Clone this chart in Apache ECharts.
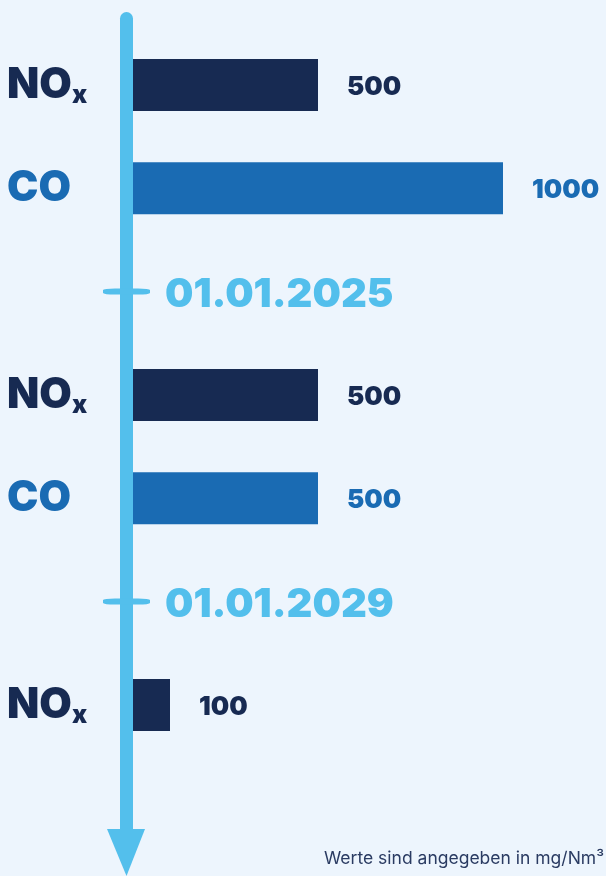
<!DOCTYPE html>
<html>
<head>
<meta charset="utf-8">
<script src="https://cdn.jsdelivr.net/npm/echarts@6/dist/echarts.min.js"></script>
<style>
  html, body { margin: 0; padding: 0; background: #EDF5FD; }
  #chart { width: 606px; height: 876px; }
</style>
</head>
<body>
<div id="chart"></div>
<script>
// Rows of the timeline, top to bottom
const categories = ['NOx', 'CO', '01.01.2025', 'NOx', 'CO', '01.01.2029', 'NOx'];
const rowKinds   = ['NOx', 'CO', 'date', 'NOx', 'CO', 'date', 'NOx'];
// Limit values in mg/Nm³
const noxValues = [500, '-', '-', 500, '-', '-', 100];
const coValues  = ['-', 1000, '-', '-', 500, '-', '-'];
// Milestone markers sit on the timeline (value 0)
const dateMarks = ['-', '-', 0, '-', '-', 0, '-'];
const footnote = 'Werte sind angegeben in mg/Nm³';

const NAVY = '#172A52';
const BLUE = '#1A6BB3';
const LIGHT = '#53BFEC';
const FONT = 'Inter, "Noto Sans", sans-serif';

const dateData = [];
dateMarks.forEach((v, i) => { if (v !== '-') dateData.push([v, i]); });

const chart = echarts.init(document.getElementById('chart'), null, { renderer: 'canvas' });
chart.setOption({
  backgroundColor: '#EDF5FD',
  animation: false,
  title: {
    text: footnote,
    left: 319,
    top: 845,
    textStyle: { fontFamily: FONT, fontSize: 17.5, fontWeight: 400, color: '#2A3B62' }
  },
  grid: { left: 133, right: 103, top: 33.3, bottom: 119.4, containLabel: false },
  xAxis: { type: 'value', min: 0, max: 1000, show: false },
  yAxis: {
    type: 'category',
    inverse: true,
    data: categories,
    axisLine: { show: false },
    axisTick: { show: false },
    splitLine: { show: false },
    axisLabel: {
      align: 'left',
      margin: 126,
      formatter: (v, i) => {
        const k = rowKinds[i];
        if (k === 'NOx') return '{n|NO}{s|x}';
        if (k === 'CO') return '{c|CO}';
        return '';
      },
      rich: {
        n: { fontFamily: FONT, fontSize: 42, fontWeight: 900, color: NAVY, lineHeight: 42 },
        s: { fontFamily: FONT, fontSize: 25, fontWeight: 900, color: NAVY, padding: [22, 0, 0, 0] },
        c: { fontFamily: FONT, fontSize: 42, fontWeight: 900, color: BLUE, lineHeight: 42 }
      }
    }
  },
  graphic: [
    { type: 'line', z: 1, shape: { x1: 126.5, y1: 18.5, x2: 126.5, y2: 835 },
      style: { stroke: LIGHT, lineWidth: 13, lineCap: 'round' } },
    { type: 'polygon', z: 1, shape: { points: [[107, 829], [145, 829], [126.5, 876]] },
      style: { fill: LIGHT } }
  ],
  series: [
    {
      name: 'NOx', type: 'bar', data: noxValues, barWidth: 52, barGap: '-100%',
      itemStyle: { color: NAVY }, z: 3,
      label: { show: true, position: 'right', distance: 29, offset: [0, 2], fontFamily: FONT,
               fontSize: 26, fontWeight: 900, color: NAVY }
    },
    {
      name: 'CO', type: 'bar', data: coValues, barWidth: 52, barGap: '-100%',
      itemStyle: { color: BLUE }, z: 3,
      label: { show: true, position: 'right', distance: 29, offset: [0, 2], fontFamily: FONT,
               fontSize: 26, fontWeight: 900, color: BLUE }
    },
    {
      name: 'dates', type: 'scatter', data: dateData, z: 4,
      symbol: 'roundRect', symbolSize: [47, 6], symbolOffset: [-6.5, 0],
      itemStyle: { color: LIGHT, opacity: 1 },
      label: { show: true, position: 'right', distance: 15, offset: [0, 3], fontFamily: FONT,
               fontSize: 40, fontWeight: 900, color: LIGHT,
               formatter: p => categories[p.value[1]] }
    }
  ]
});
</script>
</body>
</html>
